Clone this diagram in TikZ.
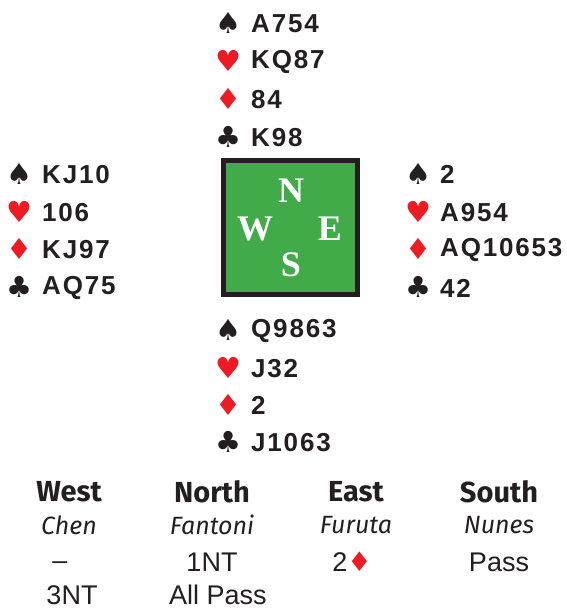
\documentclass[tikz,border=0pt]{standalone}
\usepackage{fontspec}
\setmainfont{Liberation Sans}
\newfontfamily\suitfont{DejaVu Sans}
\newfontfamily\compassfont{Liberation Serif}
\newfontfamily\auctionfont{Fira Sans}
\usetikzlibrary{positioning}
\definecolor{cardred}{HTML}{ED1C24}
\definecolor{ink}{HTML}{231F20}
\definecolor{felt}{HTML}{41AB4A}
\tikzset{
    % suit symbols and holdings
    suit/.style={inner sep=0pt, font=\suitfont\fontsize{29}{29}\selectfont, text=ink},
    redsuit/.style={suit, text=cardred},
    hold/.style={inner sep=0pt, anchor=west, text=ink,
           font=\fontsize{26}{26}\selectfont\bfseries\addfontfeatures{LetterSpace=7}},
}
\newcommand{\boxwidth}{134pt}

\begin{document}
\begin{tikzpicture}[x=1pt, y=-1pt]
\tikzstyle{table}=[draw=ink, line width=5pt, fill=felt, minimum width=\boxwidth, minimum height=\boxwidth, inner sep=0pt]
\tikzstyle{seat}=[text=white, inner sep=0pt, font=\compassfont\fontsize{36}{36}\selectfont\bfseries]
\tikzstyle{head}=[inner sep=0pt, text=ink, font=\auctionfont\fontsize{29}{29}\selectfont\bfseries]
\tikzstyle{player}=[inner sep=0pt, text=ink, font=\auctionfont\fontsize{25}{25}\selectfont\itshape]
\tikzstyle{bid}=[inner sep=0pt, text=ink, font=\fontsize{27}{27}\selectfont]

\useasboundingbox (0,0) rectangle (566,610);

% north hand
\node[suit] (nS) at (228,23) {♠};
\node[redsuit] (nH) at (228,61) {♥};
\node[redsuit] (nD) at (228,99) {♦};
\node[suit] (nC) at (228,137) {♣};
\node[hold] (nSh) at (251,24) {A754};
\node[hold] (nHh) at (251,61.5) {KQ87};
\node[hold] (nDh) at (251,99.5) {84};
\node[hold] (nCh) at (251,137.5) {K98};

% west hand
\node[suit] (wS) at (19,174) {♠};
\node[redsuit] (wH) at (19,212) {♥};
\node[redsuit] (wD) at (19,249) {♦};
\node[suit] (wC) at (19,287) {♣};
\node[hold] (wSh) at (42,174.5) {KJ10};
\node[hold] (wHh) at (42,213) {106};
\node[hold] (wDh) at (42,249.5) {KJ97};
\node[hold] (wCh) at (42,288) {AQ75};

% east hand
\node[suit] (eS) at (418,174) {♠};
\node[redsuit] (eH) at (418,212) {♥};
\node[redsuit] (eD) at (418,249) {♦};
\node[suit] (eC) at (418,287) {♣};
\node[hold] (eSh) at (440,174.5) {2};
\node[hold] (eHh) at (440,213) {A954};
\node[hold] (eDh) at (440,249.5) {AQ10653};
\node[hold] (eCh) at (440,288) {42};

% south hand
\node[suit] (sS) at (228,330) {♠};
\node[redsuit] (sH) at (228,368) {♥};
\node[redsuit] (sD) at (228,405) {♦};
\node[suit] (sC) at (228,442) {♣};
\node[hold] (sSh) at (251,331) {Q9863};
\node[hold] (sHh) at (251,369) {J32};
\node[hold] (sDh) at (251,405) {2};
\node[hold] (sCh) at (251,442.5) {J1063};

% table
\node[table] (tbl) at (290.5,227) {};
\node[seat] (N) at (291,191) {N};
\node[seat] (W) at (255,229) {W};
\node[seat] (E) at (330,229) {E};
\node[seat] (S) at (291,265) {S};

% auction
\node[head] (hW) at (69,492) {West};
\node[head] (hN) at (212,492) {North};
\node[head] (hE) at (356,492) {East};
\node[head] (hS) at (499,492) {South};
\node[player] (pW) at (69,525) {Chen};
\node[player] (pN) at (212,525) {Fantoni};
\node[player] (pE) at (356,525) {Furuta};
\node[player] (pS) at (499,525) {Nunes};
\node[bid] (b1) at (60,566) {–};
\node[bid] (b2) at (212,562) {1NT};
\node[bid] (b3) at (352,562) {2{\suitfont\color{cardred}♦}};
\node[bid] (b4) at (499,562) {Pass};
\node[bid] (b5) at (72,595) {3NT};
\node[bid] (b6) at (218,595) {All Pass};

\end{tikzpicture}
\end{document}
